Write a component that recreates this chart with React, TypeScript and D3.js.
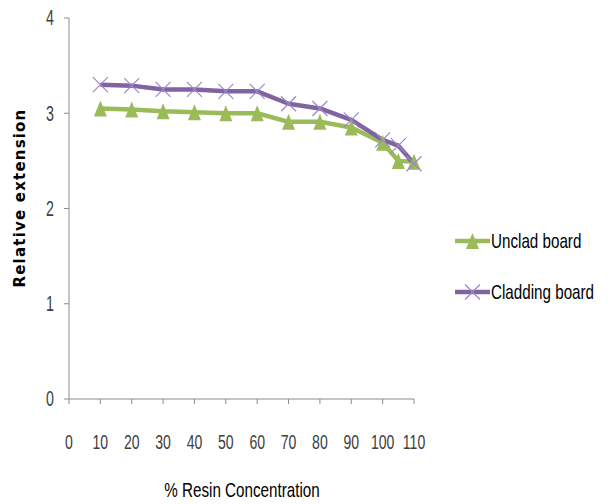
import React from "react";
import * as d3 from "d3";

// Resin concentration (%) at which each board was measured
const concentration = [10, 20, 30, 40, 50, 60, 70, 80, 90, 100, 105, 110];
// Relative extension, unclad board
const uncladValues = [3.05, 3.04, 3.02, 3.01, 3.0, 3.0, 2.91, 2.91, 2.85, 2.69, 2.5, 2.49];
// Relative extension, cladding board
const claddingValues = [3.3, 3.29, 3.25, 3.25, 3.23, 3.23, 3.1, 3.05, 2.93, 2.72, 2.66, 2.47];
const xTicks = [0, 10, 20, 30, 40, 50, 60, 70, 80, 90, 100, 110];
const yTicks = [0, 1, 2, 3, 4];
const seriesNames = ["Unclad board", "Cladding board"];

const W = 612;
const H = 504;
const FONT = "'Liberation Sans', Arial, sans-serif";
const GREEN = "#9BBB59";
const PURPLE = "#8064A2";
const PURPLE_MARK = "#9B87C9";
const AXIS = "#8c8c8c";

// Condensed, slightly tall text, giving a narrow face from a regular one
function NText({
  x,
  y,
  children,
  size = 18,
  anchor = "start",
  sx = 0.8,
  sy = 1.1,
  fill = "#000",
  dy = "0.35em",
}: {
  x: number;
  y: number;
  children: React.ReactNode;
  size?: number;
  anchor?: string;
  sx?: number;
  sy?: number;
  fill?: string;
  dy?: string;
}) {
  return (
    <text
      transform={`translate(${x},${y}) scale(${sx},${sy})`}
      dy={dy}
      textAnchor={anchor}
      fontSize={size}
      fill={fill}
      fontFamily={FONT}
    >
      {children}
    </text>
  );
}

export default function App() {
  const x = d3.scaleLinear().domain([0, 110]).range([69, 414]);
  const y = d3.scaleLinear().domain([0, 4]).range([399, 18]);

  const line = d3
    .line<[number, number]>()
    .x((d) => x(d[0]))
    .y((d) => y(d[1]));

  const uncladPts: [number, number][] = concentration.map((c, i) => [c, uncladValues[i]]);
  const claddingPts: [number, number][] = concentration.map((c, i) => [c, claddingValues[i]]);

  const tri = (cx: number, cy: number, w = 6.5, h = 8) =>
    `M${cx},${cy - h} L${cx + w},${cy + h} L${cx - w},${cy + h} Z`;
  const cross = (cx: number, cy: number, w = 7.5, h = 7.5) =>
    `M${cx - w},${cy - h} L${cx + w},${cy + h} M${cx - w},${cy + h} L${cx + w},${cy - h}`;

  return (
    <svg
      width={W}
      height={H}
      style={{ position: "absolute", left: 0, top: 0, background: "#fff" }}
      fontFamily={FONT}
    >
      {/* axes */}
      <line x1={69} x2={69} y1={y(4)} y2={y(0)} stroke={AXIS} strokeWidth={1} />
      <line x1={69} x2={x(110)} y1={y(0)} y2={y(0)} stroke={AXIS} strokeWidth={1} />
      {yTicks.map((t) => (
        <g key={"y" + t}>
          <line x1={64} x2={69} y1={y(t)} y2={y(t)} stroke={AXIS} />
          <NText x={54} y={y(t)} anchor="end" size={19} sx={0.75} sy={1.12} fill="#404040">
            {t}
          </NText>
        </g>
      ))}
      {xTicks.map((t) => (
        <g key={"x" + t}>
          <line x1={x(t)} x2={x(t)} y1={y(0)} y2={y(0) + 5} stroke={AXIS} />
          <NText x={x(t)} y={442} anchor="middle" size={18} sx={0.78} sy={1.12} fill="#404040">
            {t}
          </NText>
        </g>
      ))}

      {/* axis titles */}
      <text
        transform={`translate(25,198) rotate(-90)`}
        textAnchor="middle"
        fontSize={15}
        fontWeight="bold"
        letterSpacing={1.2}
        fontFamily="'DejaVu Sans', sans-serif"
        fill="#000"
      >
        Relative extension
      </text>
      <NText x={242} y={490} anchor="middle" size={19} sx={0.8}>
        % Resin Concentration
      </NText>

      {/* series lines */}
      <path d={line(uncladPts) ?? ""} fill="none" stroke={GREEN} strokeWidth={4.5} strokeLinejoin="round" />
      <path d={line(claddingPts) ?? ""} fill="none" stroke={PURPLE} strokeWidth={4.5} strokeLinejoin="round" />

      {/* markers */}
      {uncladPts.map((p, i) => (
        <path key={"u" + i} d={tri(x(p[0]), y(p[1]))} fill={GREEN} />
      ))}
      {claddingPts.map((p, i) => (
        <path key={"c" + i} d={cross(x(p[0]), y(p[1]))} stroke={PURPLE_MARK} strokeWidth={1.2} fill="none" />
      ))}

      {/* legend */}
      <g>
        <line x1={455} x2={490} y1={241} y2={241} stroke={GREEN} strokeWidth={4.5} />
        <path d={tri(472.5, 241)} fill={GREEN} />
        <NText x={491} y={241} size={19} sx={0.8}>
          {seriesNames[0]}
        </NText>
        <line x1={455} x2={490} y1={292} y2={292} stroke={PURPLE} strokeWidth={4.5} />
        <path d={cross(472.5, 292)} stroke={PURPLE_MARK} strokeWidth={1.2} fill="none" />
        <NText x={491} y={292} size={19} sx={0.8}>
          {seriesNames[1]}
        </NText>
      </g>
    </svg>
  );
}
